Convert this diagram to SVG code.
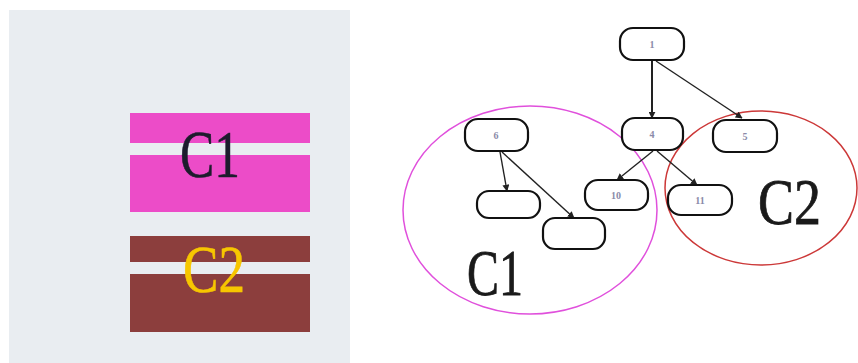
<svg xmlns="http://www.w3.org/2000/svg" width="858" height="363" viewBox="0 0 858 363">
  <style>
    .node rect { fill: #ffffff; stroke: #111111; stroke-width: 2.2; }
    .node text { font-family: "Liberation Serif", serif; font-size: 10px; font-weight: bold; fill: #8a8aa8; text-anchor: middle; }
    .edge { stroke: #222222; stroke-width: 1.4; fill: none; marker-end: url(#arrow); }
    .big { font-family: "Liberation Serif", serif; font-size: 66px; stroke: #1a1a1a; stroke-width: 0.8; }
    .swatch { font-family: "Liberation Serif", serif; font-size: 68px; stroke-width: 0.6; }
  </style>
  <defs>
    <marker id="arrow" viewBox="0 0 10 10" refX="9" refY="5" markerWidth="7" markerHeight="7" orient="auto-start-reverse" markerUnits="userSpaceOnUse">
      <path d="M0,0 L10,5 L0,10 z" fill="#222222"/>
    </marker>
  </defs>

  <rect x="0" y="0" width="858" height="363" fill="#ffffff"/>

  <!-- legend panel -->
  <g id="legend">
    <rect x="9" y="10" width="341" height="353" fill="#e9edf1"/>
    <rect x="130" y="113" width="180" height="30" fill="#ec4cc8"/>
    <rect x="130" y="155" width="180" height="57" fill="#ec4cc8"/>
    <text class="swatch" x="180" y="177" fill="#1c1c2c" stroke="#1c1c2c" textLength="60" lengthAdjust="spacingAndGlyphs">C1</text>
    <rect x="130" y="236" width="180" height="26" fill="#8c3e3d"/>
    <rect x="130" y="274" width="180" height="58" fill="#8c3e3d"/>
    <text class="swatch" x="183" y="292" fill="#f7c600" stroke="#f7c600" textLength="62" lengthAdjust="spacingAndGlyphs">C2</text>
  </g>

  <!-- cluster outlines -->
  <g id="cluster-C1">
    <ellipse cx="530" cy="210" rx="127" ry="104" fill="none" stroke="#e050dc" stroke-width="1.5"/>
    <text class="big" x="467" y="295" fill="#1a1a1a" textLength="56" lengthAdjust="spacingAndGlyphs">C1</text>
  </g>
  <g id="cluster-C2">
    <ellipse cx="761" cy="188" rx="96" ry="77" fill="none" stroke="#cc3838" stroke-width="1.5"/>
    <text class="big" x="758" y="224" fill="#1a1a1a" textLength="63" lengthAdjust="spacingAndGlyphs">C2</text>
  </g>

  <!-- connectors -->
  <g id="edges">
    <line class="edge" x1="652" y1="60" x2="652" y2="118" style="stroke-width:2"/>
    <line class="edge" x1="656" y1="61" x2="742" y2="118"/>
    <line class="edge" x1="653" y1="151" x2="617" y2="180"/>
    <line class="edge" x1="657" y1="151" x2="697" y2="185"/>
    <line class="edge" x1="500" y1="152" x2="507" y2="191"/>
    <line class="edge" x1="502" y1="152" x2="574" y2="218"/>
  </g>

  <!-- nodes -->
  <g id="n1" class="node">
    <rect x="620" y="28" width="64" height="32" rx="13"/>
    <text x="652" y="48">1</text>
  </g>
  <g id="n6" class="node">
    <rect x="465" y="119" width="63" height="32" rx="13"/>
    <text x="496" y="139">6</text>
  </g>
  <g id="n4" class="node">
    <rect x="622" y="118" width="61" height="32" rx="13"/>
    <text x="652" y="138">4</text>
  </g>
  <g id="n5" class="node">
    <rect x="713" y="120" width="64" height="32" rx="13"/>
    <text x="745" y="140">5</text>
  </g>
  <g id="n10" class="node">
    <rect x="585" y="180" width="63" height="30" rx="13"/>
    <text x="616" y="199">10</text>
  </g>
  <g id="n11" class="node">
    <rect x="668" y="185" width="64" height="30" rx="13"/>
    <text x="700" y="204">11</text>
  </g>
  <g id="n12" class="node">
    <rect x="477" y="191" width="63" height="27" rx="12"/>
  </g>
  <g id="n13" class="node">
    <rect x="543" y="218" width="62" height="31" rx="12"/>
  </g>
</svg>
